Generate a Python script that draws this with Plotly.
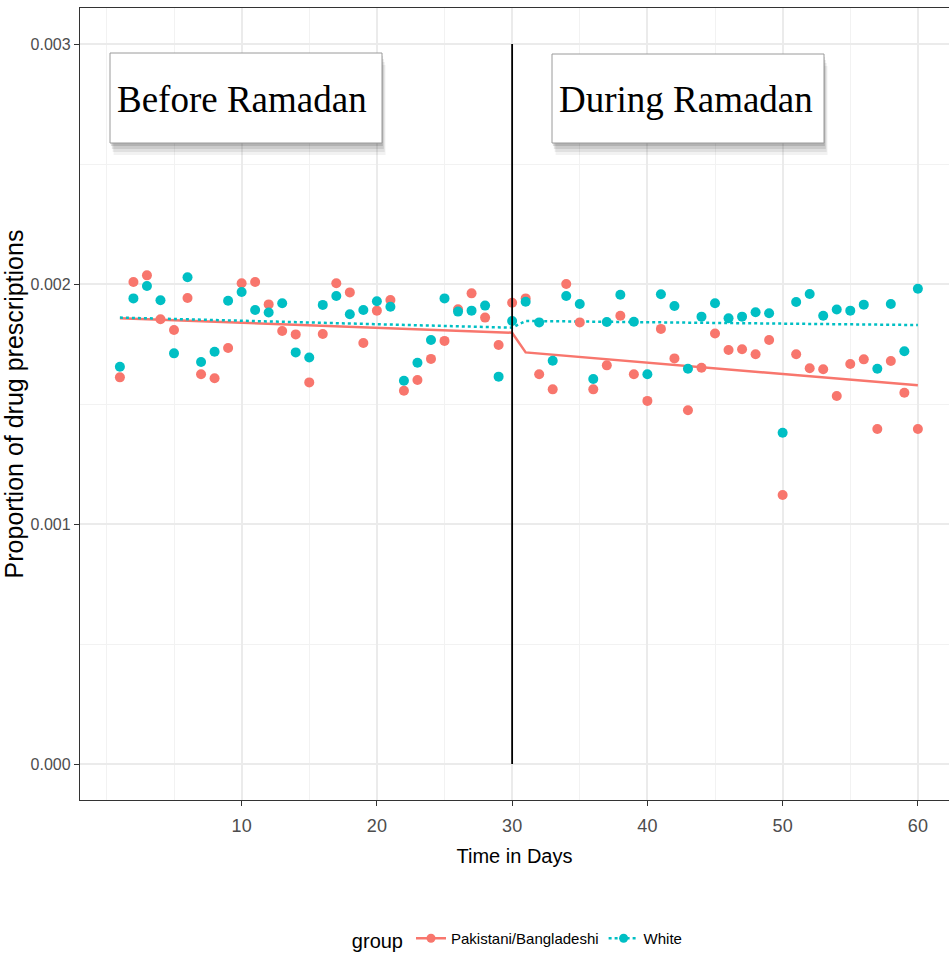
import plotly.graph_objects as go

# ---------------- data ----------------
days = list(range(1, 61))
pak_bang = [0.001611, 0.002008, 0.002036, 0.001853, 0.001808, 0.001942, 0.001624, 0.001607, 0.001733, 0.002003,
            0.002008, 0.001915, 0.001804, 0.001790, 0.001590, 0.001792, 0.002003, 0.001965, 0.001754, 0.001889,
            0.001933, 0.001555, 0.001600, 0.001688, 0.001763, 0.001895, 0.001961, 0.001860, 0.001746, 0.001922,
            0.001940, 0.001624, 0.001561, 0.002000, 0.001840, 0.001561, 0.001661, 0.001868, 0.001624, 0.001513,
            0.001813, 0.001690, 0.001474, 0.001651, 0.001794, 0.001725, 0.001728, 0.001707, 0.001767, 0.001121,
            0.001707, 0.001649, 0.001645, 0.001533, 0.001667, 0.001686, 0.001396, 0.001679, 0.001547, 0.001396]
white = [0.001655, 0.001940, 0.001992, 0.001932, 0.001711, 0.002028, 0.001675, 0.001718, 0.001930, 0.001967,
         0.001892, 0.001881, 0.001920, 0.001715, 0.001694, 0.001913, 0.001950, 0.001874, 0.001892, 0.001928,
         0.001905, 0.001597, 0.001672, 0.001767, 0.001940, 0.001885, 0.001889, 0.001910, 0.001614, 0.001846,
         0.001926, 0.001840, 0.001680, 0.001950, 0.001917, 0.001604, 0.001842, 0.001955, 0.001843, 0.001624,
         0.001957, 0.001908, 0.001647, 0.001864, 0.001920, 0.001857, 0.001864, 0.001882, 0.001878, 0.001380,
         0.001925, 0.001958, 0.001868, 0.001894, 0.001889, 0.001914, 0.001647, 0.001917, 0.001720, 0.001980]

fit_days = [1, 30, 31, 60]
pak_fit = [0.001857, 0.001797, 0.001715, 0.001578]
white_fit = [0.001860, 0.001818, 0.001846, 0.001829]

ramadan_day = [30, 30]
ramadan_y = [0.0, 0.003]

x_ticks = [10, 20, 30, 40, 50, 60]
y_ticks = [0.0, 0.001, 0.002, 0.003]
y_labels = ["0.000", "0.001", "0.002", "0.003"]

group_names = ["Pakistani/Bangladeshi", "White"]
RED = "#F8766D"
CYAN = "#00BFC4"

TICKFONT = "Liberation Sans Narrow, Liberation Sans, Arial, sans-serif"
SANS = "Liberation Sans, Arial, sans-serif"
SERIF = "Liberation Serif, Times New Roman, serif"

fig = go.Figure()

# fitted lines
fig.add_trace(go.Scatter(x=fit_days, y=pak_fit, mode="lines",
                         line=dict(color=RED, width=2.5), showlegend=False, hoverinfo="skip"))
fig.add_trace(go.Scatter(x=fit_days, y=white_fit, mode="lines",
                         line=dict(color=CYAN, width=2.5, dash="dot"), showlegend=False, hoverinfo="skip"))

# points
fig.add_trace(go.Scatter(x=days, y=pak_bang, mode="markers",
                         marker=dict(color=RED, size=10), showlegend=False))
fig.add_trace(go.Scatter(x=days, y=white, mode="markers",
                         marker=dict(color=CYAN, size=10), showlegend=False))

# Ramadan start line
fig.add_trace(go.Scatter(x=ramadan_day, y=ramadan_y, mode="lines",
                         line=dict(color="black", width=1.8), showlegend=False, hoverinfo="skip"))

# legend entries
fig.add_trace(go.Scatter(x=[None], y=[None], mode="lines+markers", name=group_names[0],
                         line=dict(color=RED, width=2.5), marker=dict(color=RED, size=9)))
fig.add_trace(go.Scatter(x=[None], y=[None], mode="lines+markers", name=group_names[1],
                         line=dict(color=CYAN, width=2.5, dash="dot"), marker=dict(color=CYAN, size=9)))

# annotation boxes (pixel-derived paper coords)
L, R, T, B = 80, 949, 8, 800
W, H = R - L, B - T


def px(xp):
    return (xp - L) / W


def py(yp):
    return (B - yp) / H


shapes = []
annotations = []
boxes = [(110, 53, 382, 143, "Before Ramadan"), (552, 54, 824, 143, "During Ramadan")]
for (x0, y0, x1, y1, txt) in boxes:
    # soft shadow
    for k, op in [(12, 0.05), (9, 0.07), (6, 0.09), (3, 0.12)]:
        shapes.append(dict(type="rect", xref="paper", yref="paper",
                           x0=px(x0 + k * 0.3), x1=px(x1 + k * 0.3), y0=py(y1 + k), y1=py(y0 + k),
                           fillcolor="rgba(0,0,0,%s)" % op, line=dict(width=0), layer="above"))
    shapes.append(dict(type="rect", xref="paper", yref="paper",
                       x0=px(x0), x1=px(x1), y0=py(y1), y1=py(y0),
                       fillcolor="white", line=dict(color="#9a9a9a", width=1), layer="above"))
    annotations.append(dict(text=txt, xref="paper", yref="paper", x=px(x0 + 5), y=py((y0 + y1) / 2 + 1),
                            xanchor="left", yanchor="middle", showarrow=False,
                            font=dict(family=SERIF, size=37, color="black")))

fig.update_layout(
    width=949, height=959,
    margin=dict(l=L, r=949 - R, t=T, b=959 - B),
    paper_bgcolor="white", plot_bgcolor="white",
    shapes=shapes, annotations=annotations,
    showlegend=True,
    legend=dict(orientation="h", x=0.505, xanchor="center", y=py(940), yanchor="middle",
                title=dict(text="group", font=dict(family=TICKFONT, size=20, color="black")),
                font=dict(family=TICKFONT, size=15, color="black"), itemwidth=30),
)

fig.update_xaxes(
    range=[-1.95, 62.3], tickvals=x_ticks, ticktext=[str(v) for v in x_ticks],
    showgrid=True, gridcolor="#EBEBEB", gridwidth=1.5,
    minor=dict(dtick=5, tick0=0, showgrid=True, gridcolor="#F2F2F2", gridwidth=1, ticks=""),
    zeroline=False, showline=True, linecolor="#333333", linewidth=1.3, mirror=True,
    ticks="outside", ticklen=5, tickcolor="#333333", tickwidth=1.3,
    ticklabelstandoff=4,
    tickfont=dict(family=TICKFONT, size=18, color="#4D4D4D"),
    title=dict(text="Time in Days", font=dict(family=TICKFONT, size=20, color="black"), standoff=14),
)
fig.update_yaxes(
    range=[-0.00015, 0.00315], tickvals=y_ticks, ticktext=y_labels,
    showgrid=True, gridcolor="#EBEBEB", gridwidth=1.5,
    minor=dict(dtick=0.0005, tick0=0, showgrid=True, gridcolor="#F2F2F2", gridwidth=1, ticks=""),
    zeroline=False, showline=True, linecolor="#333333", linewidth=1.3,
    ticks="outside", ticklen=5, tickcolor="#333333", tickwidth=1.3,
    tickfont=dict(family=TICKFONT, size=16, color="#4D4D4D"),
    title=dict(text="Proportion of drug prescriptions", font=dict(family=SANS, size=25, color="black"), standoff=10),
)

fig.write_html("out.html")
